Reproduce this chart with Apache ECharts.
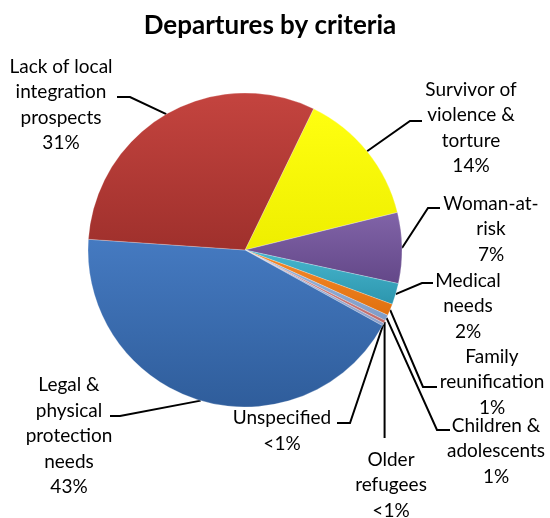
<!DOCTYPE html>
<html>
<head>
<meta charset="utf-8">
<script src="https://cdn.jsdelivr.net/npm/echarts@6/dist/echarts.min.js"></script>
<style>
html,body{margin:0;padding:0;background:#fff;}
#c{width:550px;height:518px;}
</style>
</head>
<body>
<div id="c"></div>
<script>
// ---- data ----
var categories = [
  'Survivor of\nviolence &\ntorture',
  'Woman-at-\nrisk',
  'Medical\nneeds',
  'Family\nreunification',
  'Children &\nadolescents',
  'Older\nrefugees',
  'Unspecified',
  'Legal &\nphysical\nprotection\nneeds',
  'Lack of local\nintegration\nprospects'
];
var values = [14.0, 7.3, 2.2, 1.2, 0.6, 0.3, 0.3, 43.2, 31.2];
var percentLabels = ['14%', '7%', '2%', '1%', '1%', '<1%', '<1%', '43%', '31%'];

// ---- styling / layout ----
var colorPairs = [
  ['#ffff10', '#eeee00'],
  ['#8164a8', '#634788'],
  ['#48b7cf', '#2c95ad'],
  ['#f68a2c', '#e0700f'],
  ['#9db8dc', '#7e9cc8'],
  ['#d98e8c', '#c06a68'],
  ['#a9b9db', '#8c9fca'],
  ['#457ac1', '#2f5d9b'],
  ['#c4443f', '#9f302c']
];
// label centre and leader-line elbow/end points
var labelPos = [
  {x: 471, y: 128, line: [[410, 121], [422, 121]]},
  {x: 491, y: 229, line: [[428, 208], [440, 208]]},
  {x: 468, y: 306, line: [[422, 283], [433, 283]]},
  {x: 492, y: 382, line: [[423, 387], [437, 387]]},
  {x: 496, y: 451, line: [[437, 430], [450, 430]]},
  {x: 391, y: 485, line: [[380, 438]]},
  {x: 282, y: 431, line: [[350, 423], [337, 423]]},
  {x: 69,  y: 436, line: [[120, 416], [110, 416]]},
  {x: 61,  y: 105, line: [[130, 97], [117, 97]]}
];

var data = categories.map(function (name, i) {
  return {
    name: name,
    value: values[i],
    itemStyle: {
      color: {
        type: 'linear', x: 0, y: 0, x2: 0, y2: 1,
        colorStops: [
          {offset: 0, color: colorPairs[i][0]},
          {offset: 1, color: colorPairs[i][1]}
        ]
      }
    }
  };
});

var chart = echarts.init(document.getElementById('c'), null, {renderer: 'canvas'});
chart.setOption({
  backgroundColor: '#fff',
  animation: false,
  title: {
    text: 'Departures by criteria',
    left: 265,
    textAlign: 'center',
    top: 8,
    textStyle: {fontFamily: 'Lato', fontWeight: 'bold', fontSize: 26, color: '#000'}
  },
  series: [{
    type: 'pie',
    center: [245, 250],
    radius: 157,
    startAngle: 64.1,
    clockwise: true,
    avoidLabelOverlap: false,
    data: data,
    itemStyle: {borderColor: 'rgba(255,255,255,0.3)', borderWidth: 0.8},
    label: {
      show: true,
      position: 'outside',
      formatter: function (p) { return p.name + '\n' + percentLabels[p.dataIndex]; },
      fontFamily: 'Lato',
      fontSize: 19,
      lineHeight: 25.5,
      color: '#000',
      align: 'center'
    },
    labelLine: {
      show: true,
      length: 10,
      length2: 10,
      lineStyle: {color: '#000', width: 2}
    },
    labelLayout: function (params) {
      var lp = labelPos[params.dataIndex];
      var p0 = params.labelLinePoints ? params.labelLinePoints[0] : null;
      var pts = p0 ? [[p0[0], p0[1]]].concat(lp.line) : null;
      if (params.dataIndex === 5 && p0) {
        pts = [[p0[0], p0[1]], [p0[0], lp.line[0][1]]];
      }
      var res = {x: lp.x, y: lp.y, align: 'center', verticalAlign: 'middle'};
      if (pts) res.labelLinePoints = pts;
      return res;
    }
  }]
});
</script>
</body>
</html>
